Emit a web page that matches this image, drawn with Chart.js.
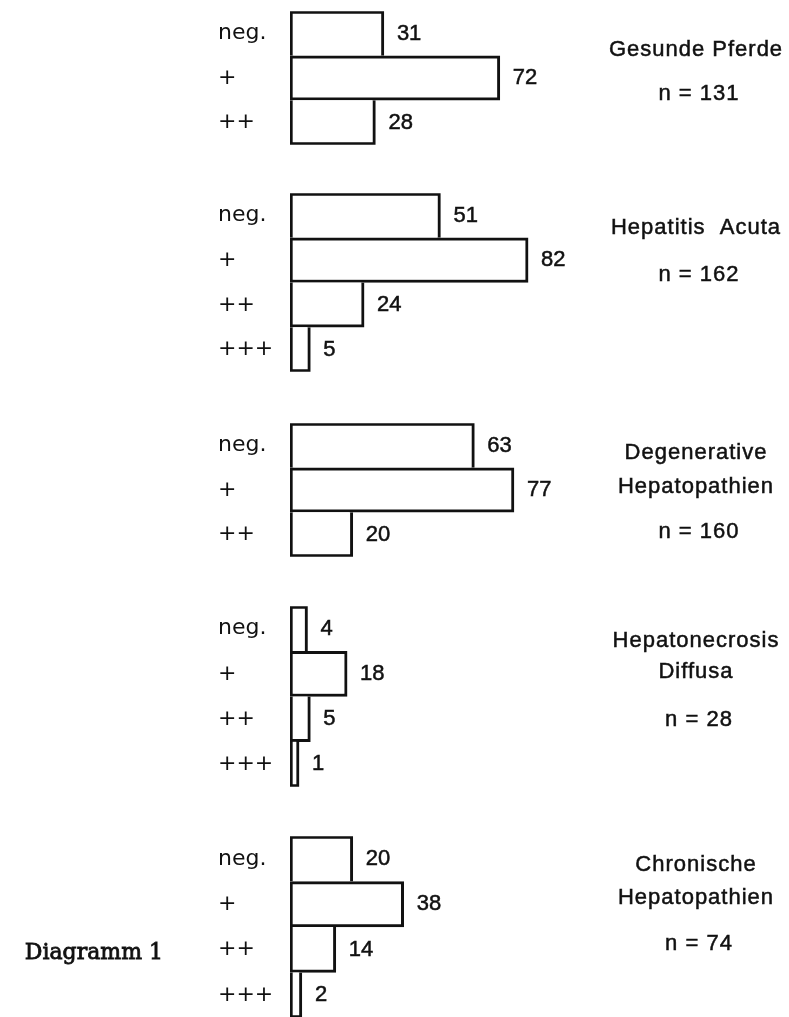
<!DOCTYPE html>
<html>
<head>
<meta charset="utf-8">
<script src="https://cdn.jsdelivr.net/npm/chart.js@4.4.0/dist/chart.umd.min.js"></script>
<style>
  html, body { margin: 0; padding: 0; background: #fff; width: 789px; height: 1017px; overflow: hidden; }
  .grp { position: absolute; left: 0; width: 789px; }
</style>
</head>
<body>
<div id="page"></div>
<script>
// Kategorien (Reaktion) und Werte je Gruppe
const rowLabels = ['neg.', '+', '++', '+++'];

const gesundePferde      = [31, 72, 28];
const hepatitisAcuta     = [51, 82, 24, 5];
const degenerativeHepato = [63, 77, 20];
const hepatonecrosis     = [4, 18, 5, 1];
const chronischeHepato   = [20, 38, 14, 2];

const groupTitles = [
    ['Gesunde Pferde'],
    ['Hepatitis  Acuta'],
    ['Degenerative', 'Hepatopathien'],
    ['Hepatonecrosis', 'Diffusa'],
    ['Chronische', 'Hepatopathien']
];
const groupN = [131, 162, 160, 28, 74];
const caption = 'Diagramm 1';

// Platzierung der einzelnen Diagramme auf der Seite
const layout = [
    { top: 10,  rowH: 45.3, titleY: [50],       nY: 94 },
    { top: 192, rowH: 45.3, titleY: [228],      nY: 275 },
    { top: 422, rowH: 45.3, titleY: [453, 487], nY: 532 },
    { top: 605, rowH: 45.8, titleY: [641, 672], nY: 720 },
    { top: 835, rowH: 46,   titleY: [865, 898], nY: 944, captionY: 953 }
];

const PAD = 12;
const INK = '#111';
const LINE = 3;
const sans = '"Liberation Sans", Arial, sans-serif';

// Text etwas kräftiger, wie im gedruckten Original
function inkText(ctx, txt, x, y, w) {
    ctx.fillText(txt, x, y);
    ctx.lineWidth = w;
    ctx.strokeText(txt, x, y);
}

function makeGroup(idx, values) {
    const lay = layout[idx];
    const h = Math.round(values.length * lay.rowH + 2 * PAD);
    const canvasTop = lay.top - PAD;

    const wrap = document.createElement('div');
    wrap.className = 'grp';
    wrap.style.top = canvasTop + 'px';
    wrap.style.height = h + 'px';
    const cv = document.createElement('canvas');
    cv.width = 789;
    cv.height = h;
    wrap.appendChild(cv);
    document.getElementById('page').appendChild(wrap);

    // Gemeinsame Kanten nur einmal zeichnen (vom längeren Balken)
    const borders = values.map((v, i) => ({
        left: LINE,
        right: LINE,
        top: (i === 0 || v > values[i - 1]) ? LINE : 0,
        bottom: (i === values.length - 1 || v >= values[i + 1]) ? LINE : 0
    }));

    // Zahlen neben den Balken, Beschriftung rechts
    const annotate = {
        id: 'annotate' + idx,
        afterDatasetsDraw(chart) {
            const ctx = chart.ctx;
            const meta = chart.getDatasetMeta(0);
            ctx.save();
            ctx.fillStyle = INK;
            ctx.strokeStyle = INK;
            ctx.textBaseline = 'middle';
            ctx.font = '22px ' + sans;
            ctx.textAlign = 'left';
            meta.data.forEach((bar, i) => {
                inkText(ctx, String(values[i]), bar.x + 13, bar.y, 0.5);
            });

            ctx.textAlign = 'center';
            ctx.letterSpacing = '1px';
            groupTitles[idx].forEach((t, i) => {
                inkText(ctx, t, 696, lay.titleY[i] - canvasTop, 0.5);
            });
            inkText(ctx, 'n = ' + groupN[idx], 699, lay.nY - canvasTop, 0.5);

            if (lay.captionY) {
                ctx.letterSpacing = '0px';
                ctx.font = '22px "DejaVu Serif", "Liberation Serif", serif';
                ctx.textAlign = 'right';
                inkText(ctx, caption, 163, lay.captionY - canvasTop, 0.8);
            }
            ctx.restore();
        }
    };

    return new Chart(cv.getContext('2d'), {
        type: 'bar',
        data: {
            labels: rowLabels.slice(0, values.length),
            datasets: [{
                data: values,
                base: -2.2,
                backgroundColor: '#fff',
                borderColor: INK,
                borderWidth: borders,
                borderSkipped: false,
                barPercentage: 1,
                categoryPercentage: 1
            }]
        },
        options: {
            indexAxis: 'y',
            responsive: false,
            animation: false,
            events: [],
            layout: { padding: { left: 218, right: 210, top: PAD, bottom: PAD } },
            plugins: { legend: { display: false }, tooltip: { enabled: false } },
            scales: {
                x: { type: 'linear', min: -2.2, max: 100, display: false },
                y: {
                    grid: { display: false },
                    border: { display: false },
                    afterFit: s => { s.width = 72; },
                    ticks: {
                        autoSkip: false,
                        crossAlign: 'far',
                        padding: 0,
                        color: INK,
                        font: { family: '"DejaVu Sans", sans-serif', size: 22 }
                    }
                }
            }
        },
        plugins: [annotate]
    });
}

makeGroup(0, gesundePferde);
makeGroup(1, hepatitisAcuta);
makeGroup(2, degenerativeHepato);
makeGroup(3, hepatonecrosis);
makeGroup(4, chronischeHepato);
</script>
</body>
</html>
